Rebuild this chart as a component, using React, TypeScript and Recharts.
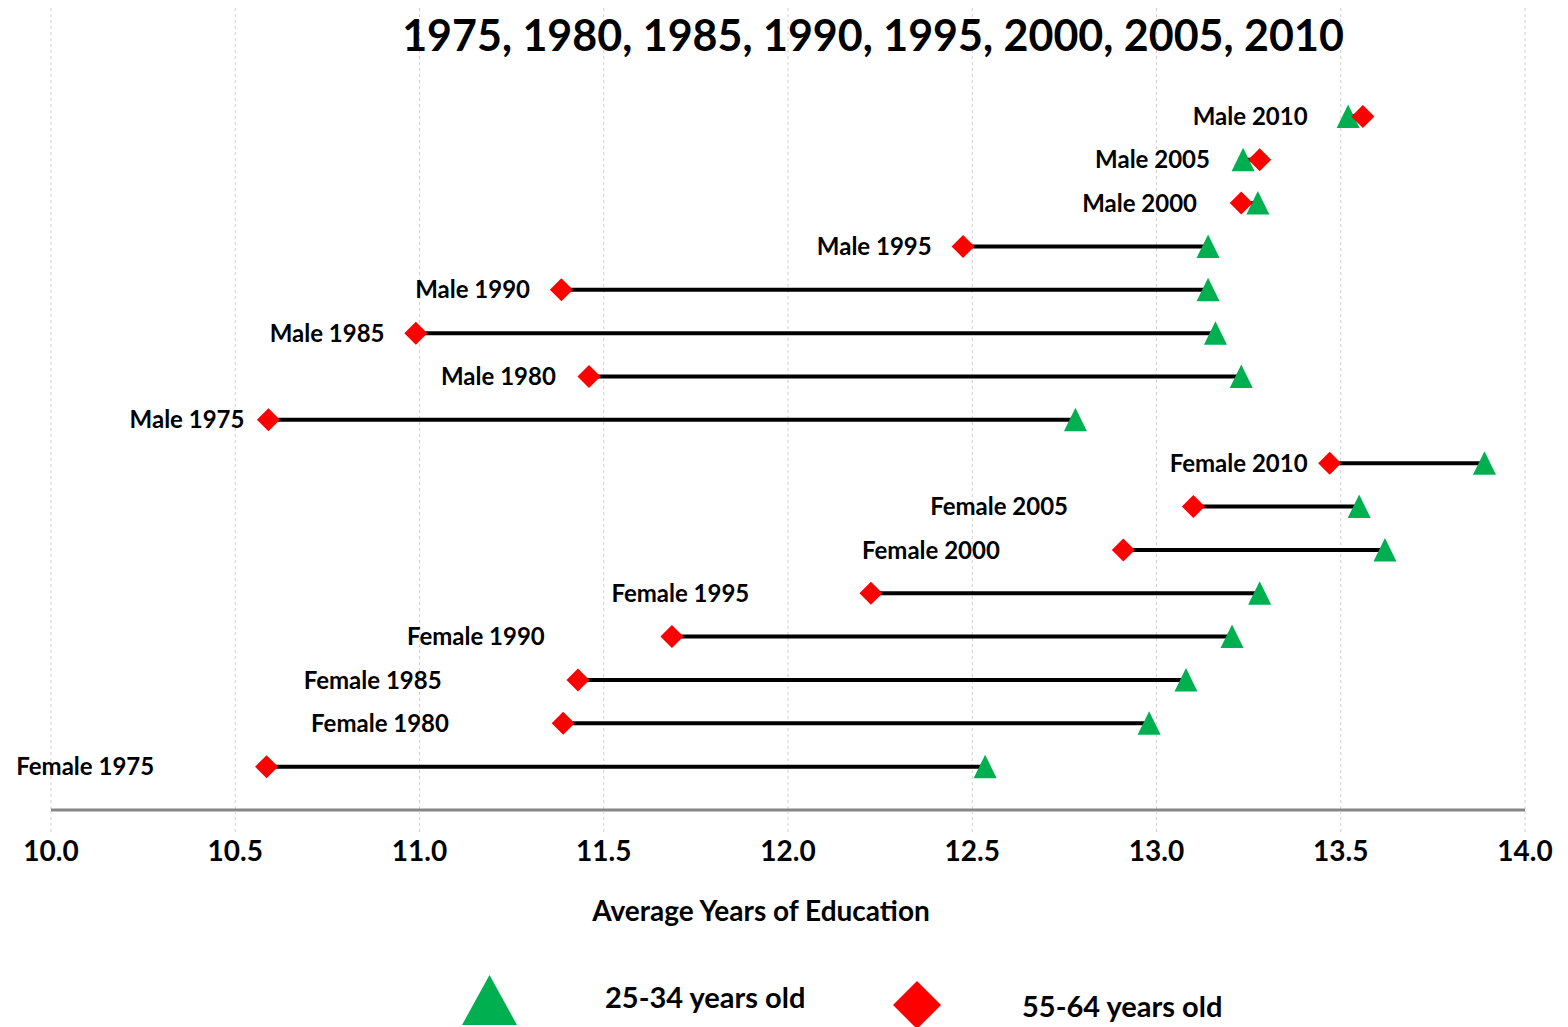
import React from 'react';
import { ScatterChart, Scatter, XAxis, YAxis, CartesianGrid, Legend } from 'recharts';

const categories = [
  'Male 2010', 'Male 2005', 'Male 2000', 'Male 1995', 'Male 1990', 'Male 1985', 'Male 1980', 'Male 1975',
  'Female 2010', 'Female 2005', 'Female 2000', 'Female 1995', 'Female 1990', 'Female 1985', 'Female 1980', 'Female 1975',
];
const age25to34 = [13.52, 13.235, 13.275, 13.14, 13.14, 13.16, 13.23, 12.78, 13.89, 13.55, 13.62, 13.28, 13.205, 13.08, 12.98, 12.535];
const age55to64 = [13.56, 13.28, 13.23, 12.475, 11.385, 10.99, 11.46, 10.59, 13.47, 13.1, 12.91, 12.225, 11.685, 11.43, 11.39, 10.585];
// right end of each row label, in years on the x axis
const labelAnchorYears = [13.41, 13.145, 13.11, 12.39, 11.3, 10.905, 11.37, 10.525, 13.41, 12.76, 12.575, 11.895, 11.34, 11.06, 11.08, 10.28];
const xTicks = [10, 10.5, 11, 11.5, 12, 12.5, 13, 13.5, 14];
const titleText = '1975, 1980, 1985, 1990, 1995, 2000, 2005, 2010';
const xAxisTitle = 'Average Years of Education';
const seriesNames = ['25-34 years old', '55-64 years old'];

const FONT = 'Lato, "Open Sans", sans-serif';
const GREEN = '#00B050';
const RED = '#FF0000';

const rowY = (i: number) => categories.length - i;

const youngData = categories.map((c, i) => ({ x: age25to34[i], y: rowY(i), name: c }));
const oldData = categories.map((c, i) => ({ x: age55to64[i], y: rowY(i), name: c }));
const labelData = categories.map((c, i) => ({ x: labelAnchorYears[i], y: rowY(i), name: c }));
const segments = categories.map((c, i) => [
  { x: age55to64[i], y: rowY(i) },
  { x: age25to34[i], y: rowY(i) },
]);

const Triangle = (props: any) => {
  const { cx, cy } = props;
  if (cx == null || cy == null) return <g />;
  return <polygon points={`${cx},${cy - 12} ${cx - 11.5},${cy + 11.5} ${cx + 11.5},${cy + 11.5}`} fill={GREEN} />;
};

const Diamond = (props: any) => {
  const { cx, cy } = props;
  if (cx == null || cy == null) return <g />;
  return <polygon points={`${cx},${cy - 11.5} ${cx + 11.5},${cy} ${cx},${cy + 11.5} ${cx - 11.5},${cy}`} fill={RED} />;
};

const RowLabel = (props: any) => {
  const { cx, cy, payload } = props;
  if (cx == null || cy == null) return <g />;
  return (
    <text x={cx} y={cy} dy="0.36em" textAnchor="end" fontFamily={FONT} fontWeight={700} fontSize={24} fill="#000">
      {payload.name}
    </text>
  );
};

const Nothing = () => <g />;

const LegendContent = () => (
  <svg width={1568} height={62} style={{ display: 'block' }}>
    <polygon points="489.5,10 462,60 517,60" fill={GREEN} />
    <text x={605} y={43} fontFamily={FONT} fontWeight={700} fontSize={29} fill="#000">{seriesNames[0]}</text>
    <polygon points="917,16 941,40 917,64 893,40" fill={RED} />
    <text x={1022} y={52} fontFamily={FONT} fontWeight={700} fontSize={29} fill="#000">{seriesNames[1]}</text>
  </svg>
);

const AxisTitle = (props: any) => {
  const vb = props.viewBox || {};
  const cx = vb.x + vb.width / 2 - 27;
  return (
    <text x={cx} y={vb.y + 111} textAnchor="middle" fontFamily={FONT} fontWeight={700} fontSize={28} fill="#000">
      {xAxisTitle}
    </text>
  );
};

export default function App() {
  return (
    <div style={{ position: 'absolute', left: 0, top: 0, width: 1568, height: 1027, background: '#fff' }}>
      <ScatterChart width={1568} height={1027} margin={{ top: 8, right: 43, left: 51, bottom: 0 }}>
        <CartesianGrid horizontal={false} vertical={true} stroke="#d0d0d0" strokeDasharray="3 3" />
        <XAxis
          type="number"
          dataKey="x"
          domain={[10, 14]}
          ticks={xTicks}
          interval={0}
          tickFormatter={(v: number) => v.toFixed(1)}
          height={217}
          tickSize={22}
          tickMargin={9}
          axisLine={{ stroke: '#868686', strokeWidth: 3 }}
          tickLine={{ stroke: '#d0d0d0', strokeDasharray: '3 3' }}
          tick={{ fontFamily: FONT, fontWeight: 700, fontSize: 28, fill: '#000' }}
          label={<AxisTitle />}
        />
        <YAxis type="number" dataKey="y" domain={[0, 18.5]} hide />
        {segments.map((seg, i) => (
          <Scatter
            key={`seg-${i}`}
            data={seg}
            line={{ stroke: '#000', strokeWidth: 4 }}
            shape={Nothing}
            isAnimationActive={false}
            legendType="none"
          />
        ))}
        <Scatter name={seriesNames[0]} data={youngData} shape={Triangle} isAnimationActive={false} />
        <Scatter name={seriesNames[1]} data={oldData} shape={Diamond} isAnimationActive={false} />
        <Scatter data={labelData} shape={RowLabel} isAnimationActive={false} legendType="none" />
        <Legend
          layout="horizontal"
          verticalAlign="middle"
          align="center"
          content={LegendContent}
          wrapperStyle={{ position: 'absolute', top: 965, left: 0, width: 1568, height: 62 }}
        />
      </ScatterChart>
      <svg width={1568} height={70} style={{ position: 'absolute', left: 0, top: 0, pointerEvents: 'none' }}>
        <text x={873} y={51} textAnchor="middle" fontFamily={FONT} fontWeight={700} fontSize={43} fill="#000">
          {titleText}
        </text>
      </svg>
    </div>
  );
}
